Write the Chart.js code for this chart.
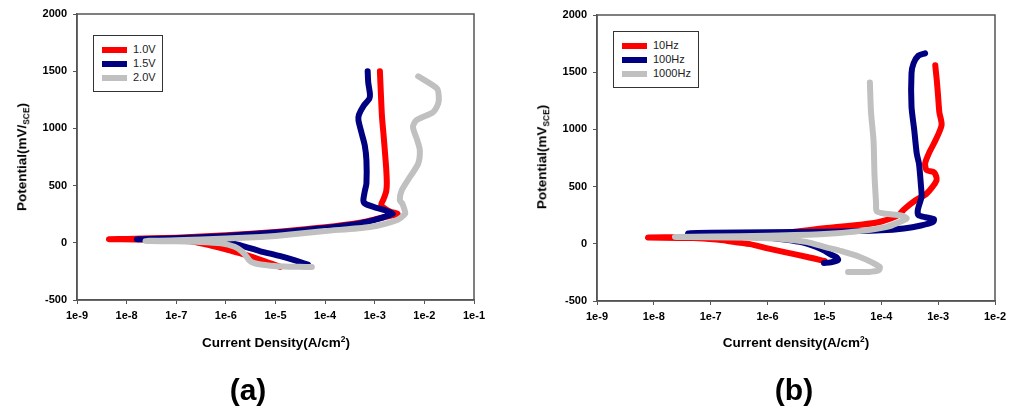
<!DOCTYPE html>
<html>
<head>
<meta charset="utf-8">
<script src="https://cdn.jsdelivr.net/npm/chart.js@4/dist/chart.umd.min.js"></script>
<style>
  body { margin: 0; background: #fff; font-family: "Liberation Sans", Arial, sans-serif; }
  #wrap { position: relative; width: 1018px; height: 409px; overflow: hidden; }
  canvas { position: absolute; top: 0; }
  .title { position: absolute; font-weight: bold; font-size: 13.5px; line-height: 1; white-space: nowrap; color: #000; }
  .xt { transform: translate(-50%, -50%); }
  .yt { transform: translate(-50%, -50%) rotate(-90deg); }
  .sub { font-size: 0.62em; position: relative; top: 0.3em; }
  .sup { font-size: 0.62em; position: relative; top: -0.55em; }
  .panel { position: absolute; font-weight: bold; font-size: 30px; line-height: 1; transform: translate(-50%, -50%); }
  .legend { position: absolute; border: 1px solid #333; box-sizing: border-box; background: #fff; }
  .row { position: absolute; left: 0; height: 0; }
  .bar { position: absolute; width: 25px; height: 6px; top: -3px; }
  .lab { position: absolute; font-size: 11px; line-height: 1; top: -6px; white-space: nowrap; color: #222; }
</style>
</head>
<body>
<div id="wrap">
  <canvas id="chartA" width="509" height="409" style="left:0"></canvas>
  <canvas id="chartB" width="509" height="409" style="left:509px"></canvas>

  <div class="title yt" style="left:22px; top:157px">Potential(mV/<span class="sub">SCE</span>)</div>
  <div class="title xt" style="left:276px; top:343px">Current Density(A/cm<span class="sup">2</span>)</div>
  <div class="panel" style="left:248px; top:390px">(a)</div>

  <div class="title yt" style="left:542px; top:157px">Potential(mV<span class="sub">SCE</span>)</div>
  <div class="title xt" style="left:796px; top:343px">Current density(A/cm<span class="sup">2</span>)</div>
  <div class="panel" style="left:794px; top:390px">(b)</div>

  <div id="legendA" class="legend" style="left:93px; top:35px; width:70px; height:57px"></div>
  <div id="legendB" class="legend" style="left:613px; top:31px; width:86px; height:57px"></div>
</div>

<script>
// tick labels
const xTicksA = ["1e-9", "1e-8", "1e-7", "1e-6", "1e-5", "1e-4", "1e-3", "1e-2", "1e-1"];
const xTicksB = ["1e-9", "1e-8", "1e-7", "1e-6", "1e-5", "1e-4", "1e-3", "1e-2"];
const yTicks = [-500, 0, 500, 1000, 1500, 2000];

const namesA = ["1.0V", "1.5V", "2.0V"];
const namesB = ["10Hz", "100Hz", "1000Hz"];
const colors = ["#ff0000", "#000080", "#c0c0c0"];

// (a) current density (A/cm2) and potential (mV)
const redAI = [1.25e-5, 8e-6, 3.5e-6, 1.8e-6, 1e-6, 5e-7, 2.2e-7, 8e-8, 2.5e-8, 8e-9, 4.4e-9,
  1e-8, 1e-7, 1e-6, 1e-5, 1e-4, 5e-4, 1e-3, 2e-3, 2.9e-3, 2e-3, 1.35e-3,
  1.5e-3, 1.7e-3, 1.75e-3, 1.7e-3, 1.6e-3, 1.5e-3, 1.4e-3, 1.33e-3, 1.27e-3];
const redAE = [-210, -180, -124, -88, -57, -25, 10, 22, 28, 31, 32,
  34, 45, 65, 95, 135, 175, 205, 235, 255, 275, 330,
  380, 450, 520, 650, 800, 950, 1100, 1300, 1500];

const blueAI = [4.5e-5, 2.3e-5, 1.2e-5, 4.8e-6, 2.5e-6, 1.5e-6, 8e-7, 3e-7, 1e-7, 3e-8, 1.6e-8,
  3e-8, 1e-7, 1e-6, 1e-5, 1e-4, 5e-4, 1e-3, 1.8e-3, 2.3e-3, 1.6e-3, 1e-3, 6.5e-4, 5.9e-4,
  6.3e-4, 6.8e-4, 6.8e-4, 6.3e-4, 5.5e-4, 4.7e-4, 4.8e-4, 6e-4, 7.8e-4, 8e-4, 7.4e-4, 7.2e-4];
const blueAE = [-190, -150, -115, -72, -35, -10, 10, 22, 28, 30, 31,
  33, 40, 60, 90, 130, 170, 200, 235, 255, 285, 310, 340, 370,
  450, 520, 720, 850, 950, 1070, 1120, 1200, 1260, 1300, 1400, 1500];

const grayAI = [5.4e-5, 3e-5, 1.5e-5, 8e-6, 5e-6, 3.6e-6, 3e-6, 2.6e-6, 2.1e-6, 1.5e-6, 8e-7, 3e-7, 1e-7, 2.4e-8,
  1e-7, 1e-6, 5e-6, 1e-5, 1e-4, 8e-4, 2.75e-3, 4.1e-3, 3.9e-3, 3.6e-3, 3.2e-3, 3.5e-3, 5.1e-3,
  7.5e-3, 8.1e-3, 7.2e-3, 5.9e-3, 6.9e-3, 1.5e-2, 1.9e-2, 1.95e-2, 1.8e-2, 7.5e-3];
const grayAE = [-211, -210, -207, -200, -190, -175, -155, -120, -75, -35, -5, 8, 13, 16,
  22, 38, 51, 60, 103, 138, 197, 255, 300, 343, 371, 459, 575,
  692, 808, 895, 1012, 1071, 1143, 1217, 1280, 1348, 1455];

// (b)
const redBI = [1e-5, 5e-6, 1.9e-6, 1e-6, 4.9e-7, 2e-7, 1.26e-7, 5e-8, 7.9e-9,
  3e-8, 1e-7, 1e-6, 1e-5, 5e-5, 1e-4, 2e-4, 2.5e-4, 4e-4, 6.3e-4, 9.4e-4, 8.5e-4, 6.3e-4, 5.9e-4,
  7e-4, 8.9e-4, 1.15e-3, 1.05e-3, 1e-3, 9.5e-4, 8.9e-4];
const redBE = [-150, -115, -71, -40, -3, 25, 37, 50, 55,
  58, 62, 80, 135, 170, 195, 250, 300, 380, 440, 556, 625, 643, 703,
  800, 900, 1038, 1150, 1285, 1420, 1560];

const blueBI = [9.8e-6, 1.3e-5, 1.74e-5, 1.6e-5, 1.3e-5, 1e-5, 7.2e-6, 3.7e-6, 1.5e-6, 5e-7, 1.5e-7, 4e-8,
  1e-7, 1e-6, 1e-5, 1e-4, 2.5e-4, 5e-4, 8.2e-4, 8.4e-4, 6e-4, 4.5e-4, 4.4e-4, 5.1e-4, 5e-4,
  4.6e-4, 4.2e-4, 3.8e-4, 3.4e-4, 3.4e-4, 3.7e-4, 4.5e-4, 5.9e-4];
const blueBE = [-168, -162, -140, -115, -95, -60, -27, 17, 45, 65, 80, 90,
  96, 100, 105, 118, 134, 160, 192, 215, 232, 250, 300, 410, 500,
  700, 790, 994, 1200, 1490, 1578, 1645, 1665];

const grayBI = [2.6e-5, 6e-5, 9e-5, 9.5e-5, 7e-5, 4.2e-5, 2e-5, 1e-5, 5e-6, 2e-6, 5e-7, 1e-7, 2.35e-8,
  1e-7, 1e-6, 1e-5, 5e-5, 1.26e-4, 2e-4, 2.8e-4, 2.2e-4, 1.2e-4, 8.3e-5, 8.1e-5,
  7.6e-5, 7.3e-5, 6.6e-5, 6.3e-5];
const grayBE = [-246, -246, -232, -205, -165, -115, -65, -27, 15, 40, 52, 58, 60,
  64, 70, 85, 115, 148, 185, 221, 248, 262, 285, 353,
  600, 906, 1150, 1410];

function points(xs, ys) {
  return xs.map((x, i) => ({ x: x, y: ys[i] }));
}

const frame = {
  id: "frame",
  afterDraw(chart) {
    const a = chart.chartArea;
    const ctx = chart.ctx;
    ctx.save();
    ctx.strokeStyle = "#555";
    ctx.lineWidth = 1.5;
    ctx.strokeRect(a.left, a.top, a.right - a.left, a.bottom - a.top);
    ctx.restore();
  }
};

function makeChart(id, names, series, xLabels, yWidth, xHeight, pad) {
  const tickFont = { family: "'Liberation Sans', Arial, sans-serif", size: 11, weight: "bold" };
  return new Chart(document.getElementById(id), {
    type: "scatter",
    data: {
      datasets: series.map((s, i) => ({
        label: names[i],
        data: points(s[0], s[1]),
        showLine: true,
        borderColor: colors[i],
        backgroundColor: colors[i],
        borderWidth: 6,
        pointRadius: 0,
        tension: 0.25,
        borderCapStyle: "round",
        borderJoinStyle: "round",
        order: 3 - i
      }))
    },
    options: {
      responsive: false,
      animation: false,
      layout: { padding: pad },
      plugins: { legend: { display: false }, tooltip: { enabled: false } },
      scales: {
        x: {
          type: "logarithmic",
          min: Number(xLabels[0]),
          max: Number(xLabels[xLabels.length - 1]),
          afterBuildTicks: (s) => { s.ticks = xLabels.map(l => ({ value: Number(l) })); },
          afterFit: (s) => { s.height = xHeight; },
          ticks: { font: tickFont, color: "#000", padding: 5, maxRotation: 0, autoSkip: false,
            callback: (v, i) => xLabels[i] },
          grid: { drawOnChartArea: false, drawTicks: true, tickLength: 4, color: "#555" },
          border: { color: "#555", width: 1.5 }
        },
        y: {
          type: "linear",
          min: yTicks[0],
          max: yTicks[yTicks.length - 1],
          afterBuildTicks: (s) => { s.ticks = yTicks.map(v => ({ value: v })); },
          afterFit: (s) => { s.width = yWidth; },
          ticks: { font: tickFont, color: "#000", padding: 6, callback: (v) => String(v) },
          grid: { drawOnChartArea: false, drawTicks: true, tickLength: 4, color: "#555" },
          border: { color: "#555", width: 1.5 }
        }
      }
    },
    plugins: [frame]
  });
}

makeChart("chartA", namesA,
  [[redAI, redAE], [blueAI, blueAE], [grayAI, grayAE]],
  xTicksA, 77, 109, { left: 0, right: 35, top: 14, bottom: 0 });

makeChart("chartB", namesB,
  [[redBI, redBE], [blueBI, blueBE], [grayBI, grayBE]],
  xTicksB, 88, 108, { left: 0, right: 23, top: 15, bottom: 0 });

function buildLegend(id, names) {
  const box = document.getElementById(id);
  names.forEach((n, i) => {
    const row = document.createElement("div");
    row.className = "row";
    row.style.top = (14 + i * 14) + "px";
    row.innerHTML = '<span class="bar" style="left:8px;background:' + colors[i] + '"></span>' +
      '<span class="lab" style="left:39px">' + n + '</span>';
    box.appendChild(row);
  });
}
buildLegend("legendA", namesA);
buildLegend("legendB", namesB);
</script>
</body>
</html>
